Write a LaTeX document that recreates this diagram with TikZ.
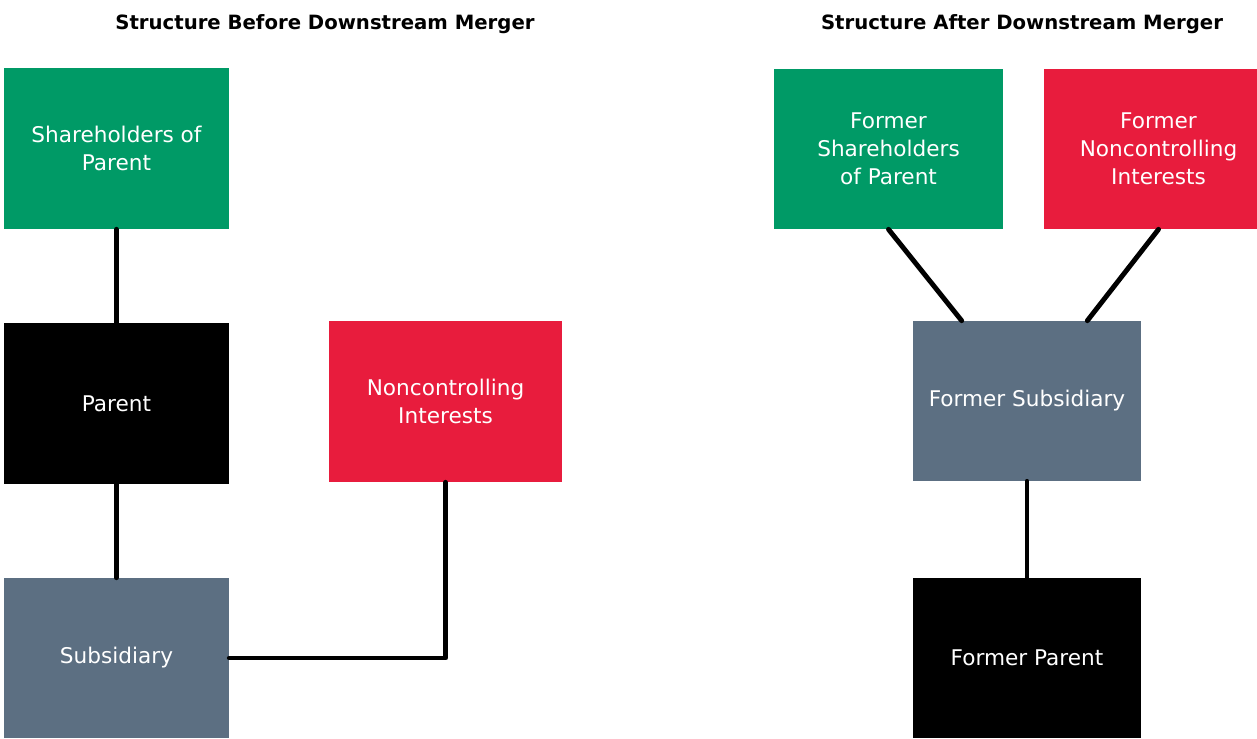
\documentclass[tikz,border=0pt]{standalone}
\usepackage{fontspec}
\setmainfont{DejaVu Sans}
\usepackage{xcolor}
\usepackage{tikz}
\usetikzlibrary{calc}
\definecolor{MGGreen}{HTML}{009A66}
\definecolor{MGRed}{HTML}{E81C3D}
\definecolor{MGSlate}{HTML}{5C6F82}

\begin{document}
\begin{tikzpicture}[x=0.02cm,y=-0.02cm,
  entity/.style={inner sep=0pt,align=center,text=white,font=\fontsize{12.3}{16}\selectfont},
  title/.style={font=\fontsize{11.2}{13}\selectfont\bfseries},
  link/.style={line width=2.8pt,line cap=round,line join=round}]
\path[use as bounding box] (0,0) rectangle (1257,738);
% before merger
\node[title] (tleft) at (325,24) {Structure Before Downstream Merger};
\node[entity,fill=MGGreen,minimum width=4.5cm,minimum height=3.22cm] (shp) at (116.5,148.5) {Shareholders of\\Parent};
\node[entity,fill=black,minimum width=4.5cm,minimum height=3.22cm] (par) at (116.5,403.5) {Parent};
\node[entity,fill=MGSlate,minimum width=4.5cm,minimum height=3.2cm] (sub) at (116.5,658) {Subsidiary};
\node[entity,fill=MGRed,minimum width=4.66cm,minimum height=3.22cm] (nci) at (445.5,401.5) {Noncontrolling\\Interests};
\draw[link] (shp.south) -- (par.north);
\draw[link] (par.south) -- (sub.north);
\draw[link] (sub.east) -| (nci.south);
% after merger
\node[title] (tright) at (1022,24) {Structure After Downstream Merger};
\node[entity,fill=MGGreen,minimum width=4.58cm,minimum height=3.2cm] (fshp) at (888.5,149) {Former\\Shareholders\\of Parent};
\node[entity,fill=MGRed,minimum width=4.6cm,minimum height=3.2cm] (fnci) at (1158.5,149) {Former\\Noncontrolling\\Interests};
\node[entity,fill=MGSlate,minimum width=4.56cm,minimum height=3.2cm] (fsub) at (1027,401) {Former Subsidiary};
\node[entity,fill=black,minimum width=4.56cm,minimum height=3.2cm] (fpar) at (1027,658) {Former Parent};
\draw[link] (fshp.south) -- ($(fsub.north west)+(49,0)$);
\draw[link] (fnci.south) -- ($(fsub.north east)+(-54,0)$);
\draw[link] (fsub.south) -- (fpar.north);
\end{tikzpicture}
\end{document}
